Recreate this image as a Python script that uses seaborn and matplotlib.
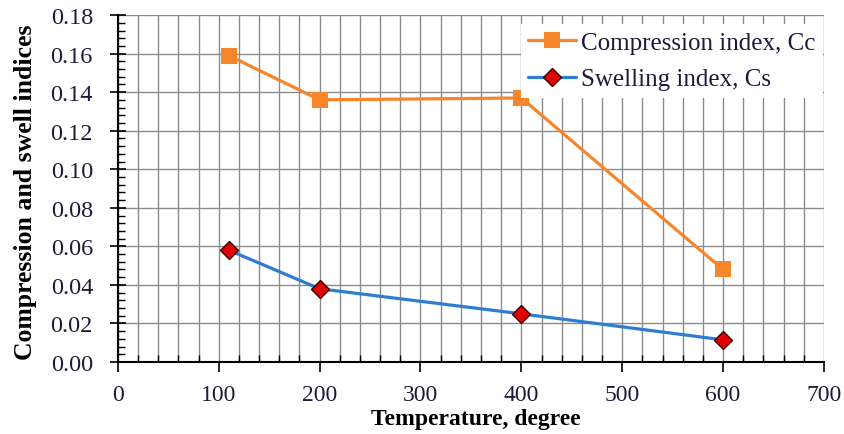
import matplotlib
matplotlib.use("Agg")
import matplotlib.pyplot as plt
from matplotlib.ticker import MultipleLocator
import seaborn as sns
import pandas as pd

# Consolidation test results versus heating temperature
temperature = [110, 200, 400, 600]
compression_index = [0.159, 0.136, 0.137, 0.048]
swelling_index = [0.058, 0.038, 0.025, 0.0115]

sns.set_theme(style="white")
plt.rcParams["font.family"] = ["Liberation Serif", "DejaVu Serif"]

fig = plt.figure(figsize=(8.45, 4.35), dpi=100)
ax = fig.add_axes([0.1396, 0.1655, 0.8354, 0.7975])

df_cc = pd.DataFrame({"T": temperature, "v": compression_index})
df_cs = pd.DataFrame({"T": temperature, "v": swelling_index})

sns.lineplot(data=df_cc, x="T", y="v", ax=ax, color="#F7862B", lw=2.3,
             marker="s", markersize=11, markeredgewidth=0,
             label="Compression index, Cc", zorder=4)
sns.lineplot(data=df_cs, x="T", y="v", ax=ax, color="#2F7DD2", lw=2.3,
             marker="D", markersize=9.5, markerfacecolor="#E00000",
             markeredgecolor="#3a0000", markeredgewidth=1.0,
             label="Swelling index, Cs", zorder=4)

ax.set_xlim(0, 700)
ax.set_ylim(0, 0.18)
ax.xaxis.set_major_locator(MultipleLocator(100))
ax.xaxis.set_minor_locator(MultipleLocator(20))
ax.yaxis.set_major_locator(MultipleLocator(0.02))
ax.yaxis.set_minor_locator(MultipleLocator(0.004))
ax.yaxis.set_major_formatter(plt.FuncFormatter(lambda v, p: f"{v:.2f}"))

ax.grid(True, which="major", axis="y", color="#8c8c8c", lw=1.0)
ax.grid(True, which="minor", axis="x", color="#8c8c8c", lw=1.0)
ax.grid(True, which="major", axis="x", color="#8c8c8c", lw=1.0)

for s in ("top", "right"):
    ax.spines[s].set_visible(False)
for s in ("left", "bottom"):
    ax.spines[s].set_color("black")
    ax.spines[s].set_linewidth(1.5)

label_color = "#1c1c3a"
ax.tick_params(axis="y", which="major", direction="inout", length=12, width=1.2,
               color="black", left=True, labelsize=17.5, labelcolor=label_color, pad=12)
ax.tick_params(axis="y", which="minor", direction="in", length=5, width=1.0,
               color="black", left=True)
ax.tick_params(axis="x", which="major", direction="out", length=7, width=1.2,
               color="black", bottom=True, labelsize=17, labelcolor=label_color, pad=8.5)
ax.tick_params(axis="x", which="minor", direction="in", length=5, width=1.0,
               color="black", bottom=True)

ax.set_xlabel("Temperature, degree", fontsize=17, fontweight="bold", color="black")
ax.xaxis.set_label_coords(0.507, -0.134)
ax.set_ylabel("Compression and swell indices", fontsize=18.5, fontweight="bold",
              color="black")
ax.yaxis.set_label_coords(-0.114, 0.493)

leg = ax.legend(loc="upper right", bbox_to_anchor=(0.9985, 0.974), fontsize=18,
                frameon=True, fancybox=False, borderaxespad=0.0,
                handlelength=1.9, handletextpad=0.2, borderpad=0.3,
                labelspacing=0.55)
leg.get_frame().set_edgecolor("none")
leg.get_frame().set_facecolor("white")
leg.get_frame().set_alpha(1.0)
leg.set_zorder(10)
for t in leg.get_texts():
    t.set_color(label_color)

fig.savefig("out.png", dpi=100, facecolor="white")
